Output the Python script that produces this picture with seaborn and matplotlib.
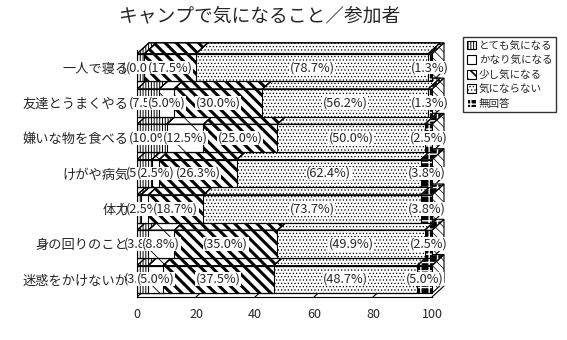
import numpy as np
import pandas as pd
import matplotlib
matplotlib.use("Agg")
import matplotlib.pyplot as plt
import seaborn as sns
from matplotlib.patches import Polygon, Patch

# ---------------- data ----------------
categories = ["一人で寝る", "友達とうまくやる", "嫌いな物を食べる", "けがや病気",
              "体力", "身の回りのこと", "迷惑をかけないか"]
series_names = ["とても気になる", "かなり気になる", "少し気になる", "気にならない", "無回答"]
totemo = [2.5, 7.5, 10.0, 5.0, 1.3, 3.8, 3.8]
kanari = [0.0, 5.0, 12.5, 2.5, 2.5, 8.8, 5.0]
sukoshi = [17.5, 30.0, 25.0, 26.3, 18.7, 35.0, 37.5]
kininaranai = [78.7, 56.2, 50.0, 62.4, 73.7, 49.9, 48.7]
mukaito = [1.3, 1.3, 2.5, 3.8, 3.8, 2.5, 5.0]
x_ticks = [0, 20, 40, 60, 80, 100]
title = "キャンプで気になること／参加者"

series = [totemo, kanari, sukoshi, kininaranai, mukaito]

# ---------------- style ----------------
sns.set_style("white")
plt.rcParams["font.family"] = ["Noto Sans CJK JP", "DejaVu Sans"]
plt.rcParams["hatch.linewidth"] = 0.8

styles = [
    dict(face="white", edge="black", hatch="||||||", hlw=0.7),
    dict(face="white", edge="black", hatch="\\", hlw=0.6),
    dict(face="white", edge="black", hatch="\\\\\\", hlw=2.2),
    dict(face="white", edge="black", hatch=".....", hlw=0.5),
    dict(face="black", edge="white", hatch="++", hlw=1.0),
]

W, H = 567, 340
fig = plt.figure(figsize=(W / 100, H / 100), dpi=100)
px_x = 2.95      # pixels per x unit
px_y = 35.3      # pixels per category slot
x0_px, y_axis_px = 137, 297
xmax, ytop = 105, -0.85
ax = fig.add_axes([x0_px / W, 1 - y_axis_px / H, xmax * px_x / W, (6.5 - ytop) * px_y / H])

BAR_H = 0.78
DX = 12 / px_x
DY = 11 / px_y

df = pd.DataFrame({"category": categories})
vals = np.array(series, dtype=float)     # (5, 7)
cum = np.cumsum(vals, axis=0)
starts = cum - vals


def set_hlw(patches, lw):
    for p in patches:
        if hasattr(p, "set_hatch_linewidth"):
            p.set_hatch_linewidth(lw)


# front faces: draw cumulative totals from the last series to the first
for k in range(4, -1, -1):
    st = styles[k]
    df["v"] = cum[k]
    n0 = len(ax.patches)
    sns.barplot(data=df, x="v", y="category", orient="h", color=st["face"],
                saturation=1, edgecolor=st["edge"], hatch=st["hatch"],
                linewidth=0.8, width=BAR_H, ax=ax, zorder=2)
    set_hlw(ax.patches[n0:], st["hlw"])

# outline of the full bars
df["v"] = cum[4]
sns.barplot(data=df, x="v", y="category", orient="h", color="black", fill=False,
            linewidth=0.8, width=BAR_H, ax=ax, zorder=2.5)

# pseudo-3D top faces and side faces
for i in range(len(categories)):
    top = i - BAR_H / 2
    bot = i + BAR_H / 2
    for k in range(5):
        st = styles[k]
        a, b = starts[k, i], cum[k, i]
        if b - a <= 0:
            continue
        pts = [(a, top), (b, top), (b + DX, top - DY), (a + DX, top - DY)]
        poly = Polygon(pts, closed=True, facecolor=st["face"], edgecolor=st["edge"],
                       hatch=st["hatch"], lw=0.8, zorder=1)
        set_hlw([poly], st["hlw"])
        ax.add_patch(poly)
        ax.add_patch(Polygon(pts, closed=True, fill=False, edgecolor="black",
                             lw=0.8, zorder=1.1))
    e = cum[4, i]
    side = Polygon([(e, top), (e + DX, top - DY), (e + DX, bot - DY), (e, bot)],
                   closed=True, facecolor="white", edgecolor="black",
                   hatch="\\\\\\\\", lw=0.8, zorder=1)
    set_hlw([side], 0.5)
    ax.add_patch(side)

# back wall and floor lines
ax.plot([DX, 100 + DX], [-BAR_H / 2 - DY] * 2, color="black", lw=0.8,
        ls=(0, (3, 2)), zorder=0.5)
for xt in x_ticks:
    ax.plot([xt, xt + DX], [6.5, 6.5 - DY], color="black", lw=0.8, zorder=0.5)

# value labels
for i in range(len(categories)):
    for k in range(5):
        c = starts[k, i] + vals[k, i] / 2
        ax.text(c, i, f"({vals[k, i]:.1f}%)", ha="center", va="center",
                fontsize=9.2, zorder=5,
                bbox=dict(facecolor="white", edgecolor="none", pad=0.3))

# axes
ax.set_xlim(0, xmax)
ax.set_ylim(6.5, ytop)
ax.set_xlabel("")
ax.set_ylabel("")
for s in ["top", "right"]:
    ax.spines[s].set_visible(False)
ax.spines["left"].set_bounds(-0.5, 6.5)
ax.spines["bottom"].set_bounds(0, 100)
for s in ["left", "bottom"]:
    ax.spines[s].set_linewidth(0.8)
    ax.spines[s].set_color("black")
ax.set_xticks(x_ticks)
ax.set_xticklabels([str(t) for t in x_ticks], fontsize=9)
ax.set_xticks(np.arange(10, 100, 20), minor=True)
ax.set_yticks(range(len(categories)))
ax.set_yticklabels(categories, fontsize=9.5)
ax.set_yticks(np.arange(-0.5, 7.0, 1.0), minor=True)
ax.tick_params(axis="y", which="major", length=0, pad=6)
ax.tick_params(axis="y", which="minor", length=4, width=0.8, direction="out")
ax.tick_params(axis="x", which="both", length=4, width=0.8, direction="out", pad=4)
ax.yaxis.set_zorder(6)
ax.patch.set_alpha(0)

# legend
handles = []
for st in styles:
    p = Patch(facecolor=st["face"], edgecolor=st["edge"], hatch=st["hatch"], lw=0.8)
    handles.append(p)
leg = fig.legend(handles, series_names, loc="upper left",
                 bbox_to_anchor=(463 / W, 1 - 37 / H), frameon=True, fancybox=False,
                 edgecolor="black", fontsize=7.6, handlelength=0.9, handleheight=0.9,
                 handletextpad=0.25, labelspacing=0.42, borderpad=0.35, borderaxespad=0)
leg.get_frame().set_linewidth(1.0)
for h, st in zip(leg.legend_handles, styles):
    set_hlw([h], min(st["hlw"], 1.2))

fig.text(260 / W, 1 - 16 / H, title, ha="center", va="center", fontsize=13.5)

fig.savefig("out.png", dpi=100, facecolor="white")
